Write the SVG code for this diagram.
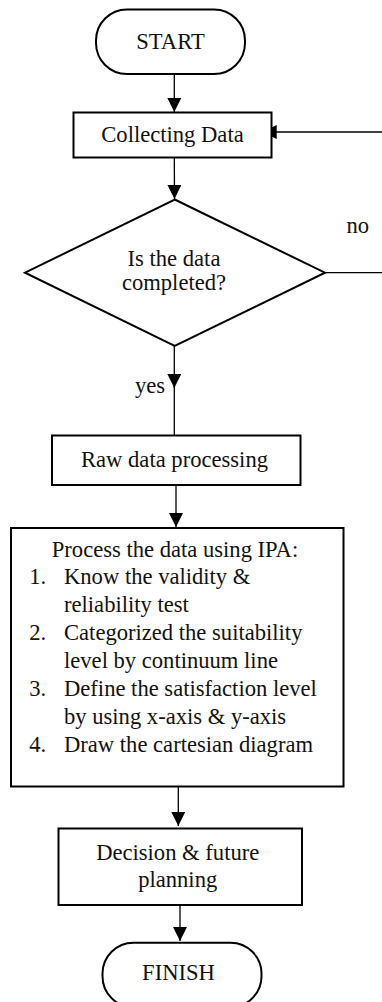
<svg xmlns="http://www.w3.org/2000/svg" width="382" height="1002" viewBox="0 0 382 1002" font-family="Liberation Serif, serif">
<style>
text{font-family:'Liberation Serif',serif;font-size:22.6px;fill:#111}
.c{text-anchor:middle}
.shape{fill:#fff;stroke:#000;stroke-width:2}
.conn{stroke:#000;stroke-width:1.3;fill:none}
</style>
<defs>
<marker id="ah" markerUnits="userSpaceOnUse" markerWidth="14" markerHeight="14" viewBox="0 0 14 14" refX="14" refY="7" orient="auto">
<path d="M0,0 L14,7 L0,14 z" fill="#000"/>
</marker>
</defs>
<rect width="382" height="1002" fill="#fff"/>
<g id="connectors">
<line class="conn" x1="174.3" y1="74" x2="174.3" y2="112" marker-end="url(#ah)"/>
<line class="conn" x1="174.3" y1="158" x2="174.5" y2="199" marker-end="url(#ah)"/>
<line class="conn" x1="174.3" y1="346" x2="174.3" y2="388" marker-end="url(#ah)"/>
<line class="conn" x1="174.3" y1="386" x2="174.3" y2="435"/>
<line class="conn" x1="176" y1="485" x2="176" y2="527" marker-end="url(#ah)"/>
<line class="conn" x1="178.3" y1="787" x2="178.3" y2="826" marker-end="url(#ah)"/>
<line class="conn" x1="180" y1="905" x2="180" y2="941" marker-end="url(#ah)"/>
<line class="conn" x1="325" y1="272.7" x2="382" y2="272.7"/>
<line class="conn" x1="382" y1="132" x2="262.7" y2="132" marker-end="url(#ah)"/>
<text x="346.5" y="233">no</text>
<text x="135" y="393">yes</text>
</g>
<g id="start">
<rect class="shape" x="96" y="9.5" width="149" height="64.5" rx="31" ry="31"/>
<text class="c" x="170.5" y="49">START</text>
</g>
<g id="collecting">
<rect class="shape" x="73.5" y="112.5" width="198" height="45"/>
<text class="c" x="172.5" y="141.5">Collecting Data</text>
</g>
<g id="decision-complete">
<polygon class="shape" points="174.7,199.5 325,272.7 174.7,346 25,272.7"/>
<text class="c" x="174" y="266">Is the data</text>
<text class="c" x="174" y="290">completed?</text>
</g>
<g id="raw">
<rect class="shape" x="52" y="435.5" width="248.5" height="49.5"/>
<text class="c" x="174.5" y="467.3">Raw data processing</text>
</g>
<g id="process">
<rect class="shape" x="11" y="528" width="332.5" height="258.5"/>
<text class="c" x="175" y="556.5">Process the data using IPA:</text>
<text x="29.3" y="583.5">1.</text>
<text x="64" y="583.5">Know the validity &amp;</text>
<text x="64" y="611.5">reliability test</text>
<text x="29.3" y="640">2.</text>
<text x="64" y="640">Categorized the suitability</text>
<text x="64" y="668.3">level by continuum line</text>
<text x="29.3" y="696">3.</text>
<text x="64" y="696">Define the satisfaction level</text>
<text x="64" y="724.3">by using x-axis &amp; y-axis</text>
<text x="29.3" y="752.3">4.</text>
<text x="64" y="752.3">Draw the cartesian diagram</text>
</g>
<g id="decision-planning">
<rect class="shape" x="58.5" y="828.5" width="243.5" height="76.5"/>
<text class="c" x="177.7" y="860">Decision &amp; future</text>
<text class="c" x="177.7" y="886.7">planning</text>
</g>
<g id="finish">
<rect class="shape" x="102.5" y="942.7" width="159" height="64.5" rx="31" ry="31"/>
<text class="c" x="178.5" y="980">FINISH</text>
</g>
</svg>
